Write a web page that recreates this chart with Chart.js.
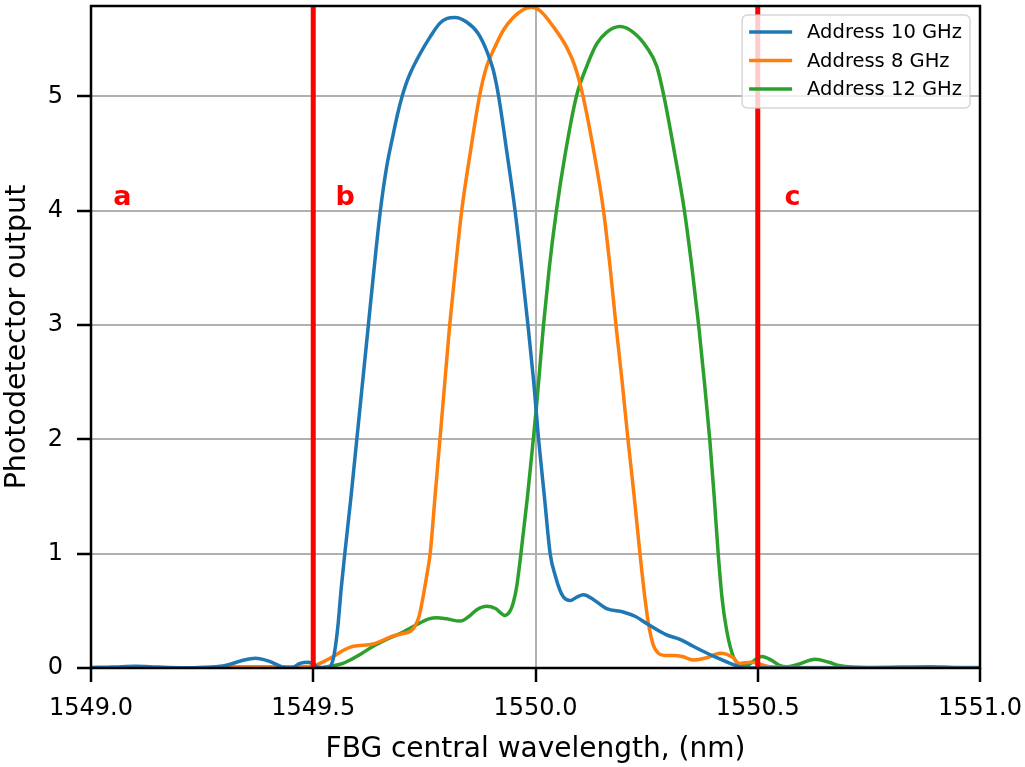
<!DOCTYPE html>
<html>
<head>
<meta charset="utf-8">
<script src="https://cdn.jsdelivr.net/npm/chart.js@4.4.0/dist/chart.umd.min.js"></script>
<style>
  body { margin: 0; background: #fff; }
  #wrap { width: 1025px; height: 767px; position: relative; }
</style>
</head>
<body>
<div id="wrap"><canvas id="myChart"></canvas></div>
<script>
// wavelength (nm) / photodetector output
const wl10 = [1549.00, 1549.05, 1549.10, 1549.15, 1549.20, 1549.25, 1549.30, 1549.34, 1549.37, 1549.40, 1549.43, 1549.45, 1549.47, 1549.49, 1549.51, 1549.53, 1549.545, 1549.555, 1549.563, 1549.571, 1549.585, 1549.598, 1549.611, 1549.624, 1549.637, 1549.651, 1549.665, 1549.680, 1549.690, 1549.700, 1549.708, 1549.718, 1549.740, 1549.763, 1549.785, 1549.800, 1549.819, 1549.845, 1549.871, 1549.890, 1549.905, 1549.917, 1549.936, 1549.954, 1549.969, 1549.983, 1549.996, 1550.000, 1550.007, 1550.020, 1550.033, 1550.045, 1550.055, 1550.063, 1550.078, 1550.093, 1550.108, 1550.13, 1550.16, 1550.197, 1550.225, 1550.25, 1550.295, 1550.325, 1550.355, 1550.37, 1550.408, 1550.445, 1550.47, 1550.50, 1550.60, 1550.80, 1551.00];
const pd10 = [0.005, 0.008, 0.015, 0.008, 0.003, 0.005, 0.02, 0.065, 0.085, 0.06, 0.01, 0.0, 0.04, 0.05, 0.01, 0.0, 0.08, 0.35, 0.7, 1.0, 1.5, 2.0, 2.5, 3.0, 3.5, 4.0, 4.38, 4.67, 4.85, 5.0, 5.1, 5.2, 5.37, 5.52, 5.64, 5.68, 5.69, 5.65, 5.55, 5.40, 5.23, 5.0, 4.5, 4.0, 3.5, 3.0, 2.5, 2.32, 2.0, 1.5, 1.0, 0.8, 0.68, 0.62, 0.59, 0.62, 0.64, 0.6, 0.52, 0.49, 0.45, 0.39, 0.29, 0.25, 0.19, 0.16, 0.09, 0.03, 0.0, 0.0, 0.0, 0.0, 0.0];

const wl8 = [1549.00, 1549.20, 1549.30, 1549.40, 1549.48, 1549.50, 1549.52, 1549.545, 1549.57, 1549.59, 1549.635, 1549.68, 1549.70, 1549.718, 1549.728, 1549.738, 1549.747, 1549.755, 1549.763, 1549.774, 1549.785, 1549.796, 1549.807, 1549.820, 1549.834, 1549.853, 1549.874, 1549.890, 1549.905, 1549.928, 1549.950, 1549.973, 1549.990, 1550.010, 1550.040, 1550.070, 1550.089, 1550.107, 1550.132, 1550.153, 1550.168, 1550.181, 1550.195, 1550.208, 1550.222, 1550.235, 1550.245, 1550.254, 1550.265, 1550.276, 1550.29, 1550.31, 1550.33, 1550.355, 1550.385, 1550.415, 1550.445, 1550.456, 1550.486, 1550.53, 1550.60, 1550.73, 1550.80, 1551.00];
const pd8 = [0.0, 0.0, 0.01, 0.01, 0.01, 0.02, 0.05, 0.1, 0.16, 0.19, 0.21, 0.28, 0.30, 0.32, 0.36, 0.45, 0.62, 0.8, 1.0, 1.5, 2.0, 2.5, 3.0, 3.5, 4.0, 4.5, 5.0, 5.26, 5.40, 5.58, 5.69, 5.76, 5.78, 5.75, 5.61, 5.43, 5.26, 5.0, 4.5, 4.0, 3.5, 3.0, 2.5, 2.0, 1.5, 1.0, 0.65, 0.39, 0.2, 0.13, 0.11, 0.11, 0.1, 0.07, 0.09, 0.13, 0.09, 0.04, 0.05, 0.01, 0.005, 0.003, 0.0, 0.0];

const wl12 = [1549.00, 1549.50, 1549.545, 1549.567, 1549.583, 1549.61, 1549.635, 1549.665, 1549.695, 1549.733, 1549.76, 1549.778, 1549.80, 1549.83, 1549.85, 1549.868, 1549.89, 1549.91, 1549.931, 1549.943, 1549.95, 1549.958, 1549.966, 1549.982, 1549.995, 1550.003, 1550.018, 1550.031, 1550.047, 1550.067, 1550.092, 1550.115, 1550.138, 1550.160, 1550.190, 1550.220, 1550.250, 1550.273, 1550.289, 1550.313, 1550.335, 1550.352, 1550.367, 1550.380, 1550.392, 1550.402, 1550.411, 1550.42, 1550.43, 1550.445, 1550.46, 1550.475, 1550.49, 1550.509, 1550.53, 1550.55, 1550.565, 1550.59, 1550.629, 1550.66, 1550.685, 1550.75, 1550.89, 1550.95, 1551.00];
const pd12 = [0.0, 0.0, 0.02, 0.04, 0.07, 0.13, 0.19, 0.25, 0.3, 0.38, 0.43, 0.44, 0.43, 0.41, 0.45, 0.51, 0.54, 0.52, 0.46, 0.5, 0.57, 0.72, 0.96, 1.5, 2.0, 2.32, 3.0, 3.5, 4.0, 4.5, 5.0, 5.26, 5.46, 5.56, 5.61, 5.56, 5.43, 5.26, 5.0, 4.5, 4.0, 3.5, 3.0, 2.5, 2.0, 1.5, 1.0, 0.6, 0.33, 0.1, 0.03, 0.02, 0.06, 0.1, 0.07, 0.02, 0.01, 0.03, 0.076, 0.05, 0.02, 0.005, 0.012, 0.004, 0.005];

const seriesNames = ['Address 10 GHz', 'Address 8 GHz', 'Address 12 GHz'];
const seriesColors = ['#1f77b4', '#ff7f0e', '#2ca02c'];

const xTicks = [1549.0, 1549.5, 1550.0, 1550.5, 1551.0];
const yTicks = [0, 1, 2, 3, 4, 5];

const markerLines = [1549.5, 1550.5];
const zoneLabels = ['a', 'b', 'c'];
const zoneLabelX = [1549.05, 1549.55, 1550.56];
const zoneLabelY = 4.05;

function toPoints(xs, ys) {
    return xs.map(function(x, i) { return { x: x, y: ys[i] }; });
}

var ctx = document.getElementById('myChart').getContext('2d');
const FONT = "'DejaVu Sans', sans-serif";

// no extra room for end labels, the plot box is fixed
function noPad(s) {
    s.paddingTop = 0;
    s.paddingBottom = 0;
    s.paddingLeft = 0;
    s.paddingRight = 0;
}

const overlay = {
    id: 'overlay',
    afterDatasetsDraw(chart) {
        const c = chart.ctx;
        const area = chart.chartArea;
        const xs = chart.scales.x, ys = chart.scales.y;
        c.save();
        c.beginPath();
        c.rect(area.left, area.top, area.right - area.left, area.bottom - area.top);
        c.clip();
        // red separators
        c.strokeStyle = '#ff0000';
        c.lineWidth = 5;
        markerLines.forEach(function(v) {
            var px = xs.getPixelForValue(v);
            c.beginPath();
            c.moveTo(px, area.top);
            c.lineTo(px, area.bottom);
            c.stroke();
        });
        c.fillStyle = '#ff0000';
        c.font = 'bold 27px ' + FONT;
        c.textAlign = 'left';
        c.textBaseline = 'alphabetic';
        zoneLabels.forEach(function(t, i) {
            c.fillText(t, xs.getPixelForValue(zoneLabelX[i]), ys.getPixelForValue(zoneLabelY));
        });
        c.restore();

        // frame
        c.save();
        c.strokeStyle = '#000';
        c.lineWidth = 2.5;
        c.strokeRect(area.left, area.top, area.right - area.left, area.bottom - area.top);
        c.restore();

        // legend, upper right
        c.save();
        c.font = '19.5px ' + FONT;
        var textW = 0;
        chart.data.datasets.forEach(function(ds) {
            textW = Math.max(textW, c.measureText(ds.label).width);
        });
        var boxW = 7 + 43 + 15 + textW + 8;
        var boxH = 93;
        var bx = area.right - 10 - boxW;
        var by = area.top + 9;
        c.fillStyle = 'rgba(255,255,255,0.8)';
        c.strokeStyle = 'rgba(204,204,204,0.8)';
        c.lineWidth = 1.5;
        c.beginPath();
        c.roundRect(bx, by, boxW, boxH, 5);
        c.fill();
        c.stroke();
        c.textBaseline = 'middle';
        c.textAlign = 'left';
        chart.data.datasets.forEach(function(ds, i) {
            var ry = by + 17 + i * 28.5;
            c.strokeStyle = ds.borderColor;
            c.lineWidth = 3.5;
            c.beginPath();
            c.moveTo(bx + 7, ry);
            c.lineTo(bx + 50, ry);
            c.stroke();
            c.fillStyle = '#000';
            c.fillText(ds.label, bx + 65, ry + 1);
        });
        c.restore();
    }
};

var myChart = new Chart(ctx, {
    type: 'line',
    data: {
        datasets: [
            { label: seriesNames[0], data: toPoints(wl10, pd10), borderColor: seriesColors[0] },
            { label: seriesNames[1], data: toPoints(wl8, pd8), borderColor: seriesColors[1] },
            { label: seriesNames[2], data: toPoints(wl12, pd12), borderColor: seriesColors[2] }
        ]
    },
    options: {
        responsive: true,
        maintainAspectRatio: false,
        animation: false,
        parsing: false,
        layout: { padding: { top: 6, right: 45, left: 0, bottom: 0 } },
        elements: {
            point: { radius: 0 },
            line: { borderWidth: 3.5, cubicInterpolationMode: 'monotone', fill: false }
        },
        plugins: {
            legend: { display: false },
            tooltip: { enabled: false }
        },
        scales: {
            x: {
                type: 'linear',
                min: 1549.0,
                max: 1551.0,
                afterFit: function(s) { s.height = 99; noPad(s); },
                afterBuildTicks: function(s) { s.ticks = xTicks.map(function(v) { return { value: v }; }); },
                border: { display: false },
                grid: { color: '#b0b0b0', lineWidth: 2, tickColor: '#000', tickLength: 14, tickWidth: 2.5 },
                ticks: {
                    color: '#000',
                    padding: 12,
                    maxRotation: 0,
                    font: { family: FONT, size: 24 },
                    callback: function(v) { return Number(v).toFixed(1); }
                },
                title: {
                    display: true,
                    text: 'FBG central wavelength, (nm)',
                    color: '#000',
                    padding: { top: 0, bottom: 0 },
                    font: { family: FONT, size: 28 }
                }
            },
            y: {
                type: 'linear',
                min: 0,
                max: 5.79,
                afterFit: function(s) { s.width = 91; noPad(s); },
                afterBuildTicks: function(s) { s.ticks = yTicks.map(function(v) { return { value: v }; }); },
                border: { display: false },
                grid: { color: '#b0b0b0', lineWidth: 2, tickColor: '#000', tickLength: 14, tickWidth: 2.5 },
                ticks: {
                    color: '#000',
                    padding: 14,
                    font: { family: FONT, size: 24 },
                    callback: function(v) { return String(v); }
                },
                title: {
                    display: true,
                    text: 'Photodetector output',
                    color: '#000',
                    padding: { top: 0, bottom: 0 },
                    font: { family: FONT, size: 28.5 }
                }
            }
        }
    },
    plugins: [overlay]
});
</script>
</body>
</html>
